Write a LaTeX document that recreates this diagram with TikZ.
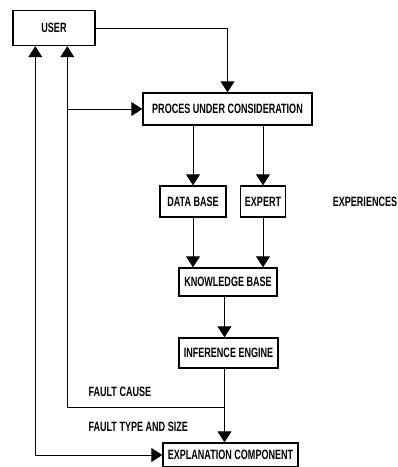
\documentclass[tikz,border=0pt]{standalone}
\usepackage{fontspec}
\setmainfont{Liberation Sans}[FakeStretch=0.67]
\usepackage{tikz}
\usetikzlibrary{arrows.meta,positioning,calc}

\begin{document}
\begin{tikzpicture}[
x=1pt, y=-1pt,
font=\fontsize{13.5}{15}\selectfont\bfseries,
block/.style={
    draw,
    line width=1.4pt,
    inner sep=0pt,
    align=center
},
arrow/.style={
    -{Triangle[length=11pt,width=14pt]},
    line width=0.9pt
}
]
\useasboundingbox (0,0) rectangle (398,467);

\node[block, minimum width=82pt, minimum height=35pt] (user) at (54,28) {USER};

\node[block, minimum width=169pt, minimum height=32pt] (proces) at (227.5,109)
{PROCES UNDER CONSIDERATION};

\node[block, minimum width=66pt, minimum height=31pt] (database) at (193,201.5)
{DATA BASE};

\node[block, minimum width=45pt, minimum height=31pt] (expert) at (263,201.5)
{EXPERT};

\node (experiences) at (365,202) {EXPERIENCES};

\node[block, minimum width=98pt, minimum height=28pt] (knowledge) at (228,282)
{KNOWLEDGE BASE};

\node[block, minimum width=99pt, minimum height=30pt] (inference) at (228.5,353)
{INFERENCE ENGINE};

\node[block, minimum width=135pt, minimum height=24pt] (explanation) at (230.5,455)
{EXPLANATION COMPONENT};

\node[anchor=west] (cause) at (85,392) {FAULT CAUSE};
\node[anchor=west] (type) at (85,427) {FAULT TYPE AND SIZE};

% feedback taps
\coordinate (tap) at ([xshift=55pt]user.south west |- proces.west);
\coordinate (down) at ([xshift=-4pt]inference.south);
\coordinate (split) at (down |- 0,407);

\draw[arrow] (user.east) -| (proces.north);
\draw[arrow] (proces.south -| database.north) -- (database.north);
\draw[arrow] (proces.south -| expert.north) -- (expert.north);
\draw[arrow] (database.south) -- (database.south |- knowledge.north);
\draw[arrow] (expert.south) -- (expert.south |- knowledge.north);
\draw[arrow] (knowledge.south -| down) -- (down |- inference.north);
\draw[arrow] (down) -- (down |- explanation.north);

\draw[arrow] (split) -| ([xshift=55pt]user.south west);
\draw[arrow] (tap) -- (proces.west);
\draw[arrow, {Triangle[length=11pt,width=14pt]}-{Triangle[length=11pt,width=14pt]}]
    ([xshift=23pt]user.south west) |- (explanation.west);

\end{tikzpicture}
\end{document}
